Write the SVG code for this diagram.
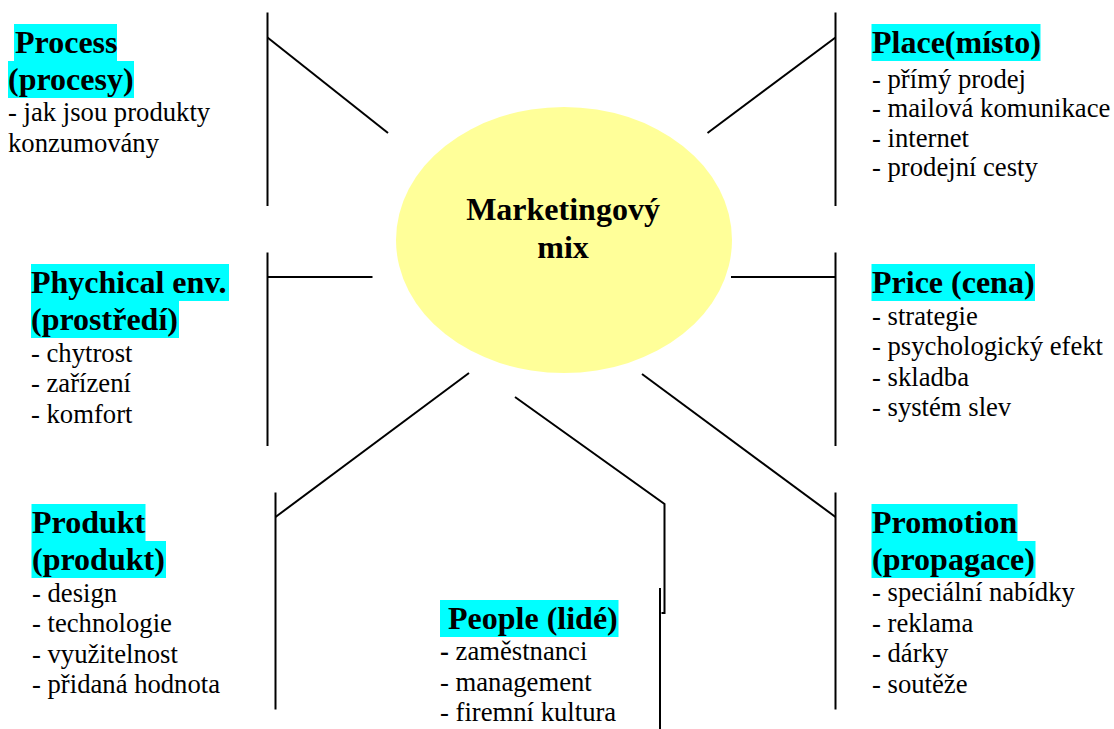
<svg xmlns="http://www.w3.org/2000/svg" width="1114" height="729" viewBox="0 0 1114 729">
  <style>
    .hl { fill: #00FFFF; }
    .head { font-family: "Liberation Serif", "Times New Roman", serif; font-weight: bold; font-size: 32px; fill: #000; }
    .item { font-family: "Liberation Serif", "Times New Roman", serif; font-size: 26.67px; fill: #000; }
    .conn { stroke: #000; stroke-width: 2; fill: none; }
  </style>
  <rect width="1114" height="729" fill="#fff"/>

  <!-- connectors: spokes from the central ellipse to each bracket -->
  <g id="connectors" class="conn">
    <!-- Process -->
    <line x1="267.5" y1="12.5" x2="267.5" y2="206"/>
    <line x1="267.5" y1="37.5" x2="388" y2="133"/>
    <!-- Place -->
    <line x1="835.5" y1="12.5" x2="835.5" y2="206"/>
    <line x1="835.5" y1="37.5" x2="707.5" y2="133"/>
    <!-- Physical environment -->
    <line x1="267.5" y1="252.5" x2="267.5" y2="446"/>
    <line x1="267.5" y1="277" x2="372.5" y2="277"/>
    <!-- Price -->
    <line x1="835.5" y1="252.5" x2="835.5" y2="446"/>
    <line x1="731" y1="277" x2="835.5" y2="277"/>
    <!-- Product -->
    <line x1="275.5" y1="492.5" x2="275.5" y2="709.5"/>
    <line x1="275.5" y1="517" x2="469" y2="373"/>
    <!-- Promotion -->
    <line x1="835.5" y1="492.5" x2="835.5" y2="709.5"/>
    <line x1="835.5" y1="517" x2="642" y2="374"/>
    <!-- People -->
    <polyline points="515,397 664.5,504 664.5,613 661.5,613"/>
    <line x1="660" y1="588" x2="660" y2="729"/>
  </g>

  <!-- central ellipse -->
  <g id="node-center">
    <ellipse cx="564" cy="240" rx="168" ry="133" fill="#FFFF99"/>
    <text class="head" x="563" y="220" text-anchor="middle">Marketingový</text>
    <text class="head" x="563" y="258" text-anchor="middle">mix</text>
  </g>

  <g id="node-process">
    <rect class="hl" x="14" y="24" width="103" height="37"/>
    <rect class="hl" x="8" y="61" width="126" height="37"/>
    <text class="head" x="15" y="53">Process</text>
    <text class="head" x="8" y="89.5">(procesy)</text>
    <text class="item" x="8" y="120.5">- jak jsou produkty</text>
    <text class="item" x="8" y="152">konzumovány</text>
  </g>

  <g id="node-place">
    <rect class="hl" x="871.5" y="24" width="169" height="37"/>
    <text class="head" x="872" y="53">Place(místo)</text>
    <text class="item" x="872" y="88">- přímý prodej</text>
    <text class="item" x="872" y="117">- mailová komunikace</text>
    <text class="item" x="872" y="146.5">- internet</text>
    <text class="item" x="872" y="176">- prodejní cesty</text>
  </g>

  <g id="node-physical">
    <rect class="hl" x="31" y="264" width="198" height="37"/>
    <rect class="hl" x="31" y="301" width="148" height="37"/>
    <text class="head" x="31" y="293">Phychical env.</text>
    <text class="head" x="31" y="329.5">(prostředí)</text>
    <text class="item" x="31" y="362">- chytrost</text>
    <text class="item" x="31" y="392">- zařízení</text>
    <text class="item" x="31" y="423">- komfort</text>
  </g>

  <g id="node-price">
    <rect class="hl" x="871.5" y="264" width="163.5" height="37"/>
    <text class="head" x="872" y="293">Price (cena)</text>
    <text class="item" x="872" y="324.5">- strategie</text>
    <text class="item" x="872" y="355">- psychologický efekt</text>
    <text class="item" x="872" y="385.5">- skladba</text>
    <text class="item" x="872" y="415.5">- systém slev</text>
  </g>

  <g id="node-produkt">
    <rect class="hl" x="31.5" y="504" width="114" height="37"/>
    <rect class="hl" x="31.5" y="541" width="134.5" height="37"/>
    <text class="head" x="32" y="533">Produkt</text>
    <text class="head" x="32" y="569.5">(produkt)</text>
    <text class="item" x="32" y="601.5">- design</text>
    <text class="item" x="32" y="632">- technologie</text>
    <text class="item" x="32" y="662.5">- využitelnost</text>
    <text class="item" x="32" y="692.5">- přidaná hodnota</text>
  </g>

  <g id="node-people">
    <rect class="hl" x="440" y="600" width="178.5" height="37"/>
    <text class="head" x="448" y="628.5">People (lidé)</text>
    <text class="item" x="440" y="660"><tspan font-weight="bold">-</tspan> zaměstnanci</text>
    <text class="item" x="440" y="690.5">- management</text>
    <text class="item" x="440" y="720.5">- firemní kultura</text>
  </g>

  <g id="node-promotion">
    <rect class="hl" x="871.5" y="504" width="146" height="37"/>
    <rect class="hl" x="871.5" y="541" width="164" height="37"/>
    <text class="head" x="872" y="533">Promotion</text>
    <text class="head" x="872" y="569.5">(propagace)</text>
    <text class="item" x="872" y="601">- speciální nabídky</text>
    <text class="item" x="872" y="631.5">- reklama</text>
    <text class="item" x="872" y="662">- dárky</text>
    <text class="item" x="872" y="692.5">- soutěže</text>
  </g>
</svg>
